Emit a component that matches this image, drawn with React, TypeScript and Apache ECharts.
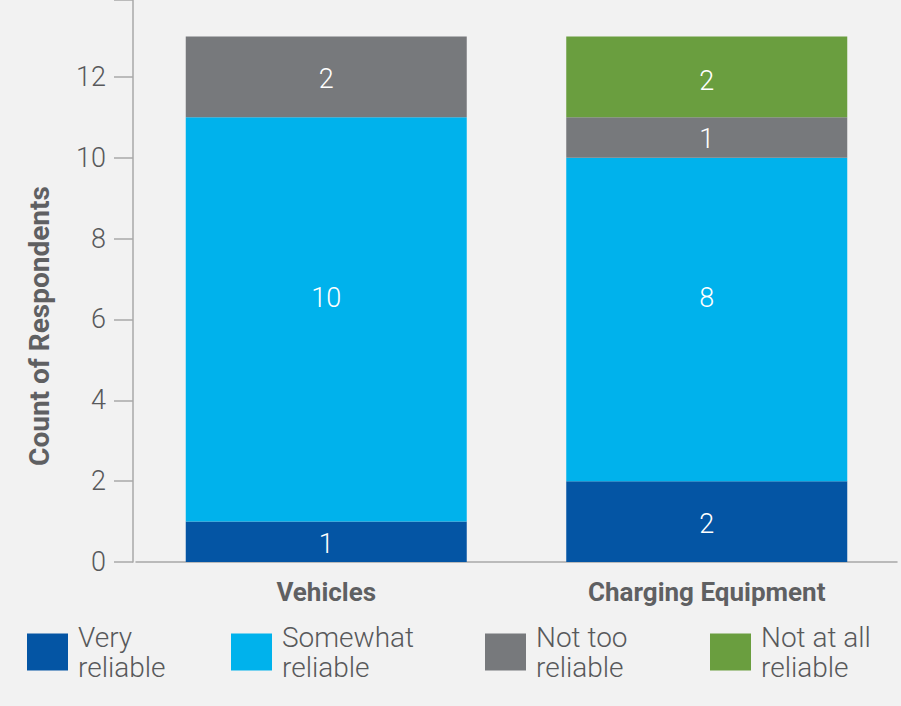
import React, { useEffect, useRef } from "react";
import * as echarts from "echarts";

const categories = ["Vehicles", "Charging Equipment"];
const seriesNames = ["Very reliable", "Somewhat reliable", "Not too reliable", "Not at all reliable"];
const veryReliable = [1, 2];
const somewhatReliable = [10, 8];
const notTooReliable = [2, 1];
const notAtAllReliable = [0, 2];
const yTicks = [0, 2, 4, 6, 8, 10, 12];
const colors = ["#0455a4", "#00b2ec", "#77797c", "#6a9e3f"];

const FONT = "Roboto, 'Noto Sans', sans-serif";

export default function App() {
  const ref = useRef<HTMLDivElement>(null);
  useEffect(() => {
    document.body.style.margin = "0";
    const chart = echarts.init(ref.current!, null, { renderer: "svg" });
    const values = [veryReliable, somewhatReliable, notTooReliable, notAtAllReliable];
    const legendLefts = [27, 231, 485, 710];
    const labelOffsets = [
      [0, 2],
      [0, -21],
      [0, 2],
      [0, 4],
    ];
    chart.setOption({
      animation: false,
      backgroundColor: "#f2f2f2",
      textStyle: { fontFamily: FONT },
      grid: { left: 136, right: 4, top: 0, bottom: 144, containLabel: false },
      xAxis: {
        type: "category",
        data: categories,
        axisLine: { lineStyle: { color: "#a8a8a8", width: 1.5 } },
        axisTick: { show: false },
        axisLabel: {
          margin: 17,
          color: "#5f6062",
          fontSize: 26,
          fontWeight: "bold",
          fontFamily: FONT,
        },
      },
      yAxis: {
        type: "value",
        min: 0,
        max: 13.9,
        interval: 2,
        offset: 3,
        name: "Count of Respondents",
        nameLocation: "middle",
        nameGap: 80,
        nameTextStyle: {
          color: "#5f6062",
          fontSize: 28,
          fontWeight: "bold",
          fontFamily: FONT,
          padding: [0, 90, 0, 0],
        },
        splitLine: { show: false },
        axisLine: { show: true, lineStyle: { color: "#a8a8a8", width: 1.5 } },
        axisTick: { show: true, length: 19, lineStyle: { color: "#a8a8a8", width: 1.5 } },
        axisLabel: {
          margin: 27,
          color: "#58595b",
          fontSize: 27,
          fontWeight: 300,
          fontFamily: FONT,
          formatter: (v: number) => (yTicks.includes(v) ? String(v) : ""),
        },
      },
      legend: seriesNames.map((n, i) => ({
        data: [n],
        left: legendLefts[i],
        top: 622,
        orient: "horizontal",
        icon: "rect",
        itemWidth: 41,
        itemHeight: 37,
        padding: 0,
        selectedMode: false,
        formatter: (name: string) => name.replace(/ reliable$/, "\nreliable"),
        textStyle: {
          color: "#58595b",
          fontSize: 28,
          fontWeight: 300,
          lineHeight: 30,
          fontFamily: FONT,
          padding: [0, 0, 0, 5],
        },
      })),
      series: seriesNames.map((n, i) => ({
        name: n,
        type: "bar",
        stack: "total",
        barWidth: 281,
        data: values[i],
        itemStyle: { color: colors[i] },
        label: {
          show: true,
          position: "inside",
          offset: labelOffsets[i],
          color: "#ffffff",
          fontSize: 27,
          fontWeight: 300,
          fontFamily: FONT,
          formatter: (p: any) => (p.value ? String(p.value) : ""),
        },
      })),
    });
    return () => chart.dispose();
  }, []);
  return <div ref={ref} style={{ width: 901, height: 706 }} />;
}
